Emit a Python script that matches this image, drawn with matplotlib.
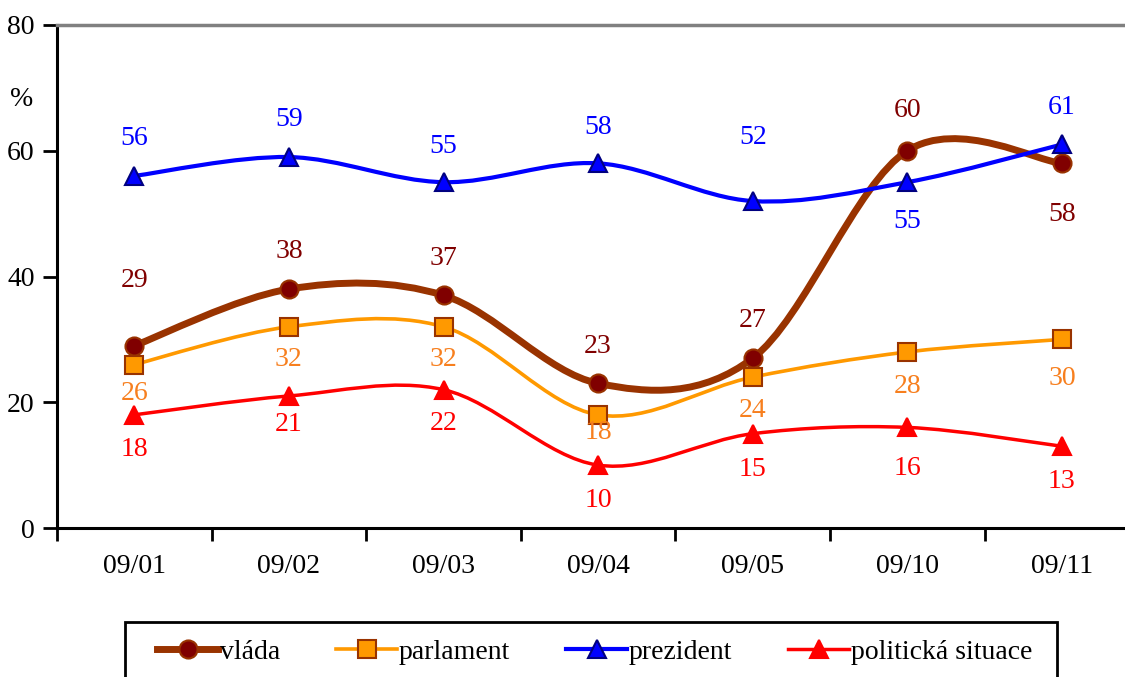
import matplotlib
matplotlib.use("Agg")
import matplotlib.pyplot as plt
from matplotlib.path import Path
from matplotlib.patches import PathPatch, Rectangle
from matplotlib.lines import Line2D

plt.rcParams['font.family'] = ['Liberation Serif', 'DejaVu Serif']

# data
periods = ["09/01", "09/02", "09/03", "09/04", "09/05", "09/10", "09/11"]
vlada = [29, 38, 37, 23, 27, 60, 58]
parlament = [26, 32, 32, 18, 24, 28, 30]
prezident = [56, 59, 55, 58, 52, 55, 61]
politicka = [18, 21, 22, 10, 15, 16, 13]

# label offsets in pixels (positive = above the point)
vlada_off = [65, 38, 37, 37, 38, 40, -51]
parlament_off = [-29, -33, -33, -18, -33, -35, -39]
prezident_off = [37, 38, 36, 36, 64, -39, 37]
politicka_off = [-35, -29, -34, -35, -36, -41, -35]


def smooth_path(xs, ys):
    # Excel-like smoothed line: Catmull-Rom segments as cubic Bezier curves
    pts = list(zip(xs, ys))
    verts = [pts[0]]
    codes = [Path.MOVETO]
    n = len(pts)
    for i in range(n - 1):
        p0 = pts[i - 1] if i > 0 else pts[i]
        p1 = pts[i]
        p2 = pts[i + 1]
        p3 = pts[i + 2] if i + 2 < n else pts[i + 1]
        c1 = (p1[0] + (p2[0] - p0[0]) / 6, p1[1] + (p2[1] - p0[1]) / 6)
        c2 = (p2[0] - (p3[0] - p1[0]) / 6, p2[1] - (p3[1] - p1[1]) / 6)
        verts += [c1, c2, p2]
        codes += [Path.CURVE4] * 3
    return Path(verts, codes)


W, H = 1125, 677
fig = plt.figure(figsize=(W / 100, H / 100), dpi=100)
ax = fig.add_axes([57 / W, 1 - 528 / H, 7 * 154.6 / W, 503 / H])

x = list(range(len(periods)))

series = [
    (vlada, vlada_off, "vláda", "#993300", 5.0, "o", "#800000", "#993300", 13, "#800000"),
    (parlament, parlament_off, "parlament", "#FF9900", 2.6, "s", "#FF9900", "#993300", 12.5, "#F77F1E"),
    (prezident, prezident_off, "prezident", "#0000FF", 3.0, "^", "#0000FF", "#000080", 13.5, "#0000FF"),
    (politicka, politicka_off, "politická situace", "#FF0000", 2.5, "^", "#FF0000", "#FF0000", 13.5, "#FF0000"),
]

handles = []
for vals, offs, name, lc, lw, mk, mfc, mec, ms, tc in series:
    patch = PathPatch(smooth_path(x, vals), fill=False, edgecolor=lc, lw=lw,
                      capstyle='round', joinstyle='round', zorder=2)
    ax.add_patch(patch)
    ax.plot(x, vals, linestyle='none', marker=mk, markersize=ms,
            markerfacecolor=mfc, markeredgecolor=mec, markeredgewidth=1.5, zorder=3)
    for xi, v, o in zip(x, vals, offs):
        ax.annotate(str(v), (xi, v), xytext=(0, o), textcoords='offset pixels',
                    ha='center', va='center', color=tc, fontsize=20, zorder=4)
    handles.append(Line2D([], [], color=lc, lw=lw, marker=mk, markersize=ms,
                          markerfacecolor=mfc, markeredgecolor=mec,
                          markeredgewidth=1.5, label=name))

ax.set_xlim(-0.5, 6.5)
ax.set_ylim(0, 80)
ax.set_yticks([0, 20, 40, 60, 80])
ax.tick_params(axis='y', direction='out', length=10, width=2, labelsize=20, pad=6)

ax.set_xticks([i - 0.5 for i in range(len(periods) + 1)])
ax.set_xticklabels([])
ax.set_xticks(x, minor=True)
ax.set_xticklabels(periods, minor=True)
ax.tick_params(axis='x', which='major', direction='out', length=9, width=2)
ax.tick_params(axis='x', which='minor', length=0, labelsize=20, pad=19)

for s in ['left', 'bottom']:
    ax.spines[s].set_linewidth(2.2)
    ax.spines[s].set_color('black')
ax.spines['top'].set_color('#808080')
ax.spines['top'].set_linewidth(2.5)
ax.spines['right'].set_visible(False)

fig.text(22 / W, 1 - 100 / H, "%", fontsize=20, ha='center', va='center')

# legend box runs off the bottom edge of the picture
fig.add_artist(Rectangle((125 / W, -0.1), 932 / W, (H - 622) / H + 0.1,
                         transform=fig.transFigure, fill=False,
                         edgecolor='black', lw=2))
leg = fig.legend(handles=handles, loc='center left', ncol=4, mode='expand',
                 bbox_to_anchor=(157 / W, 1 - 652 / H - 0.01, (1032 - 157) / W, 0.02),
                 fontsize=20, frameon=False, handlelength=2.2,
                 handletextpad=0.05, columnspacing=2.0, borderpad=0,
                 numpoints=1, borderaxespad=0)

fig.savefig("out.png", dpi=100)
